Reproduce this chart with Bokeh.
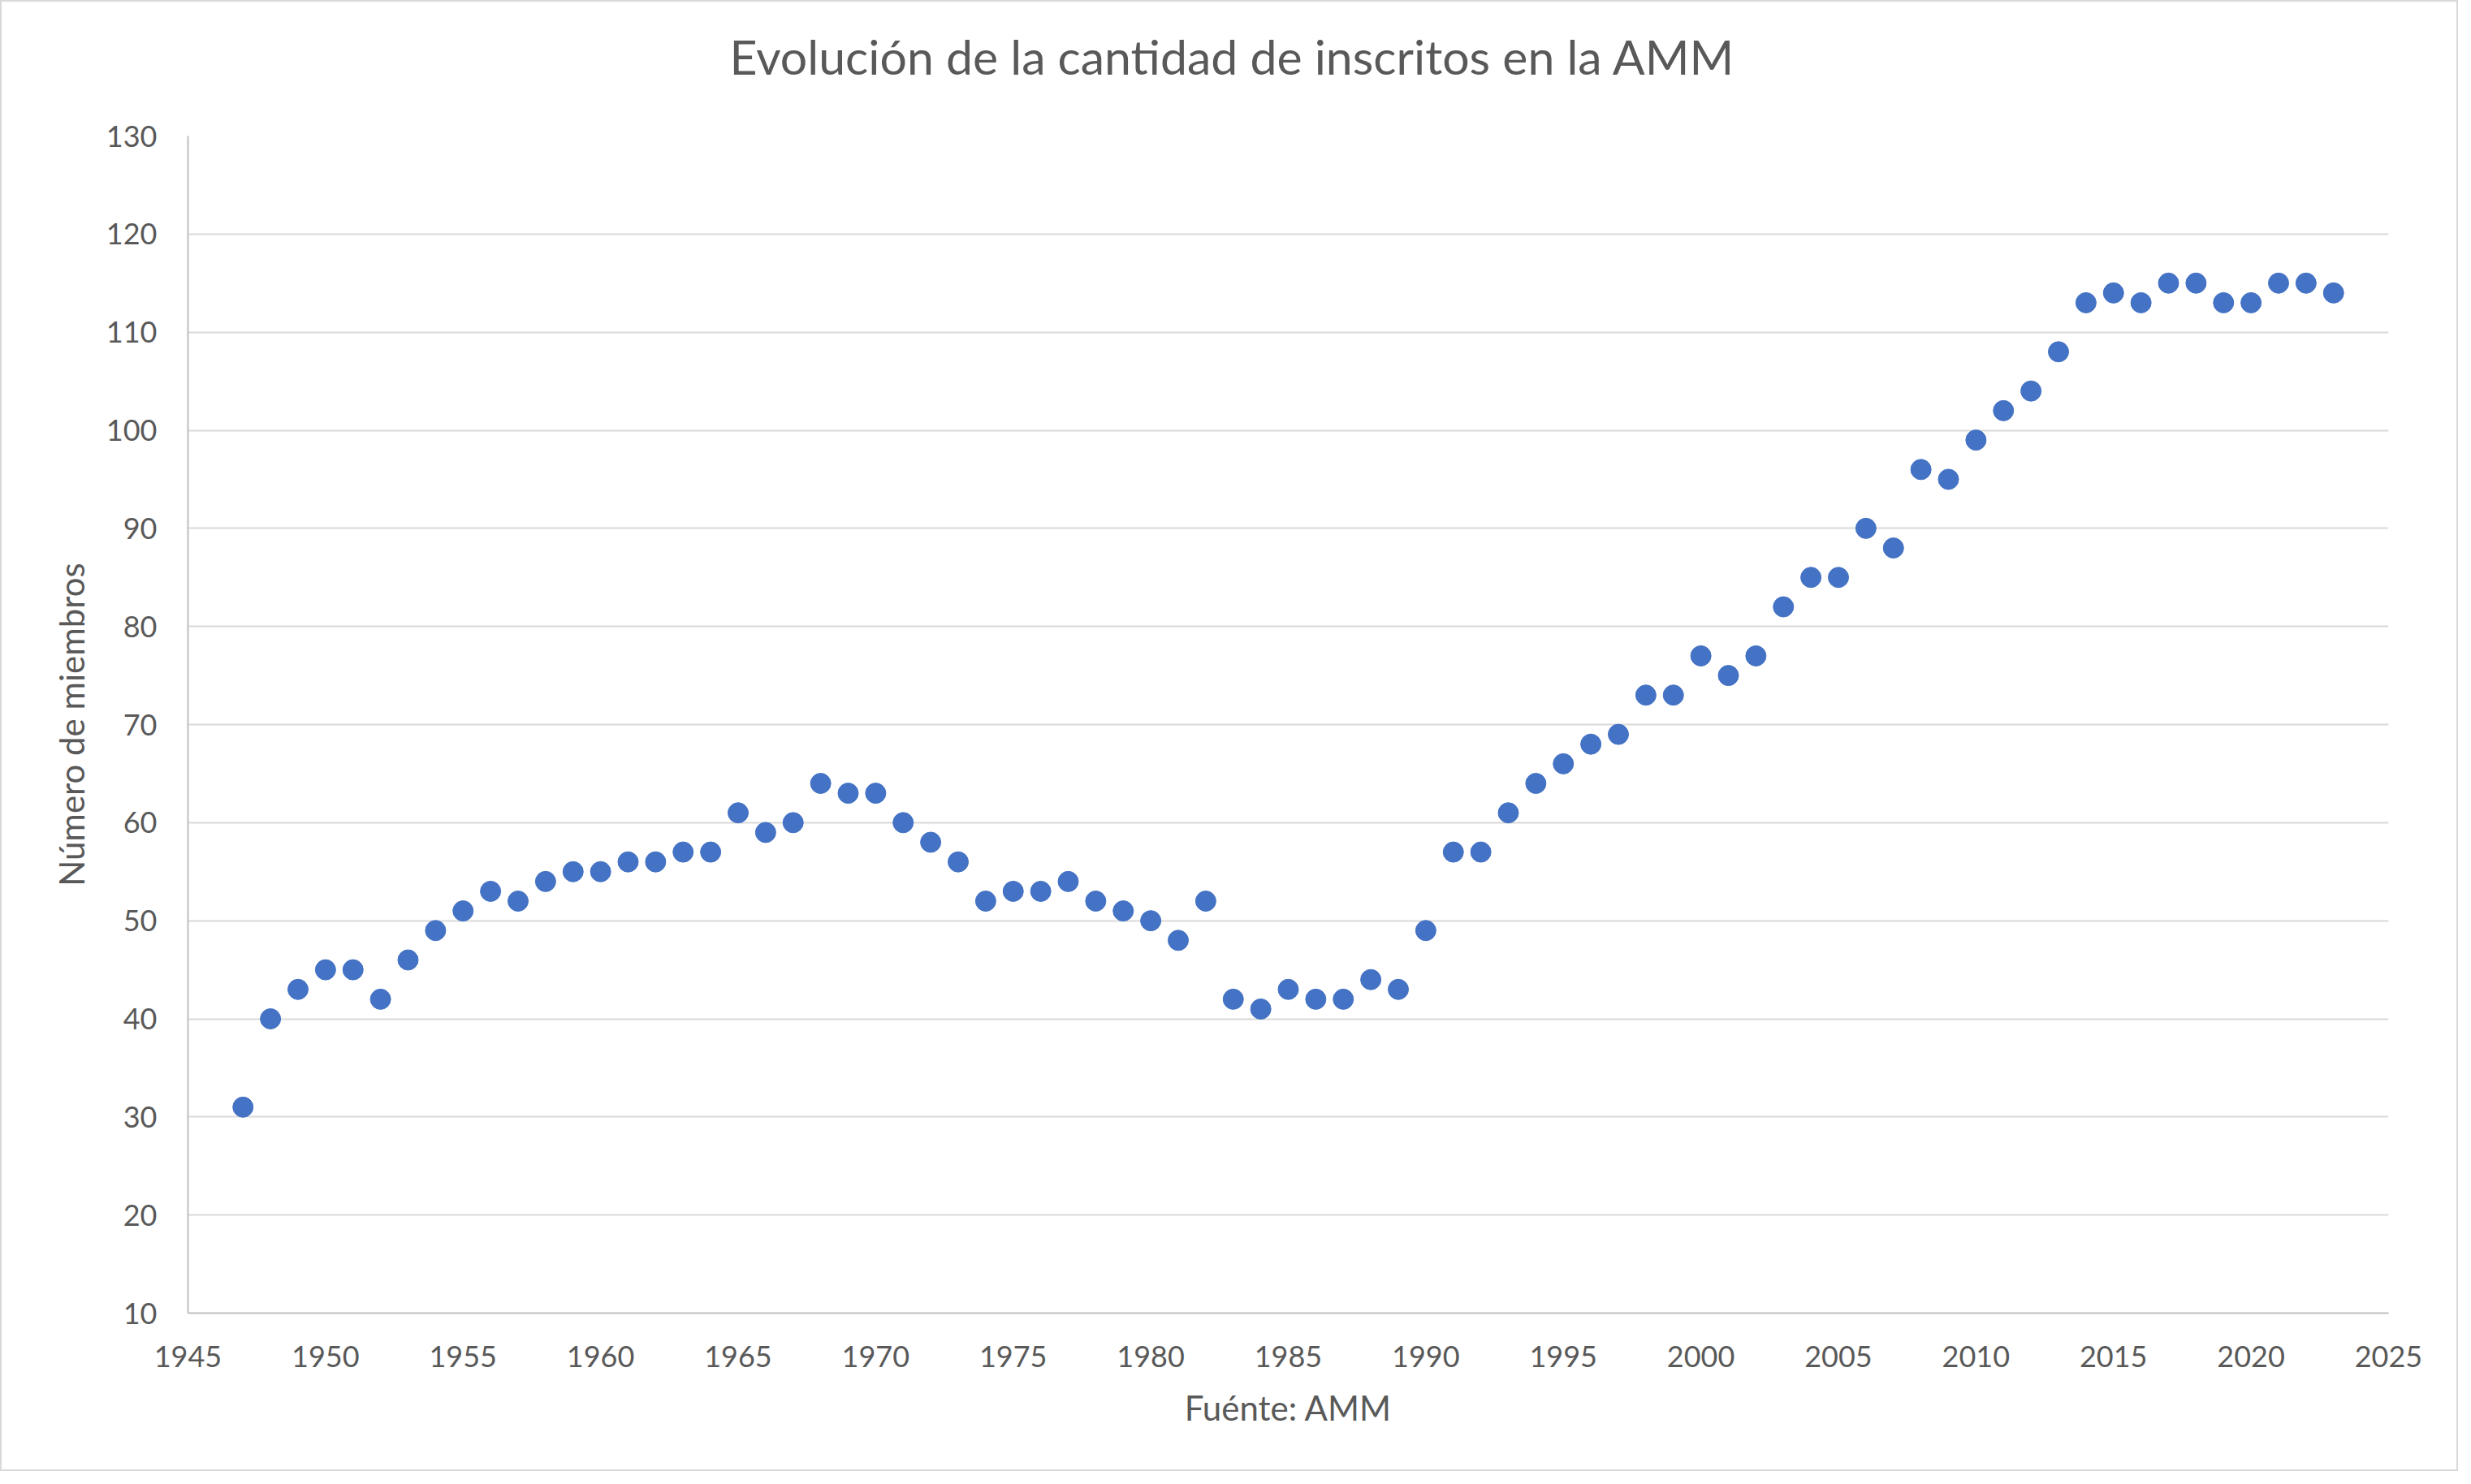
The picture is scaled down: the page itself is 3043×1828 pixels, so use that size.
from bokeh.plotting import figure
from bokeh.models import FixedTicker, Range1d, Title
from bokeh.embed import file_html
from bokeh.resources import INLINE

years = list(range(1947, 2024))
members = [31, 40, 43, 45, 45, 42, 46, 49, 51, 53,
           52, 54, 55, 55, 56, 56, 57, 57, 61, 59,
           60, 64, 63, 63, 60, 58, 56, 52, 53, 53,
           54, 52, 51, 50, 48, 52, 42, 41, 43, 42,
           42, 44, 43, 49, 57, 57, 61, 64, 66, 68,
           69, 73, 73, 77, 75, 77, 82, 85, 85, 90,
           88, 96, 95, 99, 102, 104, 108, 113, 114, 113,
           115, 115, 113, 113, 115, 115, 114]
x_ticks = list(range(1945, 2026, 5))
y_ticks = list(range(10, 131, 10))
title_text = "Evolución de la cantidad de inscritos en la AMM"

FONT = "Lato"
TXT = "#595959"

p = figure(width=3027, height=1812, output_backend="svg", toolbar_location=None,
           x_range=Range1d(1945, 2025), y_range=Range1d(10, 130),
           min_border_left=229, min_border_right=88, min_border_top=165, min_border_bottom=197)
p.styles = {"border": "2px solid #D9D9D9"}

# spacer between frame and title (closest to the frame)
p.add_layout(Title(text=" ", text_font_size="10px", standoff=50), "above")
# main title
p.add_layout(Title(text=title_text, text_font=FONT, text_font_size="59px",
                   text_font_style="normal", text_color=TXT, align="left",
                   offset=667, standoff=0), "above")

p.scatter(years, members, size=25, color="#4472C4", line_color="#4472C4")

p.outline_line_color = None
p.xgrid.grid_line_color = None
p.ygrid.grid_line_color = "#D9D9D9"
p.ygrid.grid_line_width = 2

for ax in (p.xaxis[0], p.yaxis[0]):
    ax.axis_line_color = "#BFBFBF"
    ax.axis_line_width = 2
    ax.major_tick_line_color = None
    ax.minor_tick_line_color = None
    ax.major_tick_out = 0
    ax.major_tick_in = 0
    ax.minor_tick_out = 0
    ax.major_label_text_font = FONT
    ax.major_label_text_font_size = "36px"
    ax.major_label_text_color = TXT
    ax.axis_label_text_font = FONT
    ax.axis_label_text_font_size = "42px"
    ax.axis_label_text_font_style = "normal"
    ax.axis_label_text_color = TXT

p.xaxis.ticker = FixedTicker(ticks=x_ticks)
p.yaxis.ticker = FixedTicker(ticks=y_ticks)
p.xaxis.axis_label = "Fuénte: AMM"
p.yaxis.axis_label = "Número de miembros"
p.yaxis.major_label_standoff = 38
p.xaxis.major_label_standoff = 40
p.yaxis.axis_label_standoff = 15
p.xaxis.axis_label_standoff = 22

open("out.html", "w").write(file_html(p, INLINE))
